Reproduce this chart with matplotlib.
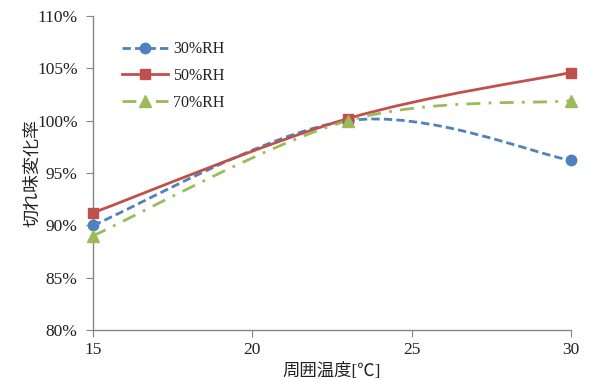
import matplotlib
matplotlib.use("Agg")
import matplotlib.pyplot as plt
from matplotlib.path import Path
from matplotlib.patches import PathPatch
from matplotlib.lines import Line2D
import numpy as np

temps = [15, 23, 30]
rh30 = [90.0, 100.0, 96.2]
rh50 = [91.2, 100.2, 104.6]
rh70 = [89.0, 100.0, 101.9]
series_names = ["30%RH", "50%RH", "70%RH"]
y_ticks = [80, 85, 90, 95, 100, 105, 110]
x_ticks = [15, 20, 25, 30]

FONT = ["Liberation Serif", "Noto Sans CJK JP", "DejaVu Sans"]
plt.rcParams['font.family'] = FONT

fig = plt.figure(figsize=(5.92, 3.81), dpi=100)
ax = fig.add_axes([93/592, 1-330/381, (571-93)/592, (330-16)/381])

def smooth_path(xs, ys):
    P = np.column_stack([xs, ys]).astype(float)
    n = len(P)
    verts = [P[0]]
    codes = [Path.MOVETO]
    for i in range(n - 1):
        p_prev = P[i - 1] if i > 0 else P[i]
        p_next2 = P[i + 2] if i + 2 < n else P[i + 1]
        c1 = P[i] + (P[i + 1] - p_prev) / 6
        c2 = P[i + 1] - (p_next2 - P[i]) / 6
        verts += [c1, c2, P[i + 1]]
        codes += [Path.CURVE4] * 3
    return Path(verts, codes)

styles = [
    dict(color="#4F81BD", ls=(0, (3, 1.5)), marker="o", ms=7.5),
    dict(color="#C0504D", ls="-", marker="s", ms=7.5),
    dict(color="#9BBB59", ls=(0, (5, 3, 1, 3)), marker="^", ms=8.5),
]
handles = []
for vals, st, name in zip([rh30, rh50, rh70], styles, series_names):
    patch = PathPatch(smooth_path(temps, vals), fill=False, edgecolor=st["color"],
                      lw=2.0, linestyle=st["ls"], zorder=2, capstyle="butt")
    ax.add_patch(patch)
    ax.plot(temps, vals, ls="none", marker=st["marker"], ms=st["ms"],
            color=st["color"], mec=st["color"], zorder=3, clip_on=False)
    handles.append(Line2D([], [], color=st["color"], lw=2.0, ls=st["ls"],
                          marker=st["marker"], ms=st["ms"], label=name))

ax.set_xlim(15, 30)
ax.set_ylim(80, 110)
ax.set_xticks(x_ticks)
ax.set_xticklabels([str(t) for t in x_ticks])
ax.set_yticks(y_ticks)
ax.set_yticklabels([f"{t}%" for t in y_ticks])
ax.tick_params(axis="both", labelsize=12.5, color="#868686", length=5,
               direction="out", labelcolor="#222222")
ax.tick_params(axis="x", pad=4)
ax.tick_params(axis="y", pad=6)
for s in ["top", "right"]:
    ax.spines[s].set_visible(False)
for s in ["left", "bottom"]:
    ax.spines[s].set_color("#868686")
    ax.spines[s].set_linewidth(1.0)

ax.set_xlabel("周囲温度[℃]", fontsize=12.5, labelpad=3, color="#222222")
ax.set_ylabel("切れ味変化率", fontsize=13, labelpad=-3, color="#222222")

leg = ax.legend(handles=handles, loc="upper left", bbox_to_anchor=(0.061, 0.92),
                frameon=False, fontsize=11.5, handlelength=2.9, handletextpad=0.3,
                labelspacing=0.68, borderpad=0, borderaxespad=0)
for t in leg.get_texts():
    t.set_color("#222222")

fig.savefig("out.png", dpi=100)
